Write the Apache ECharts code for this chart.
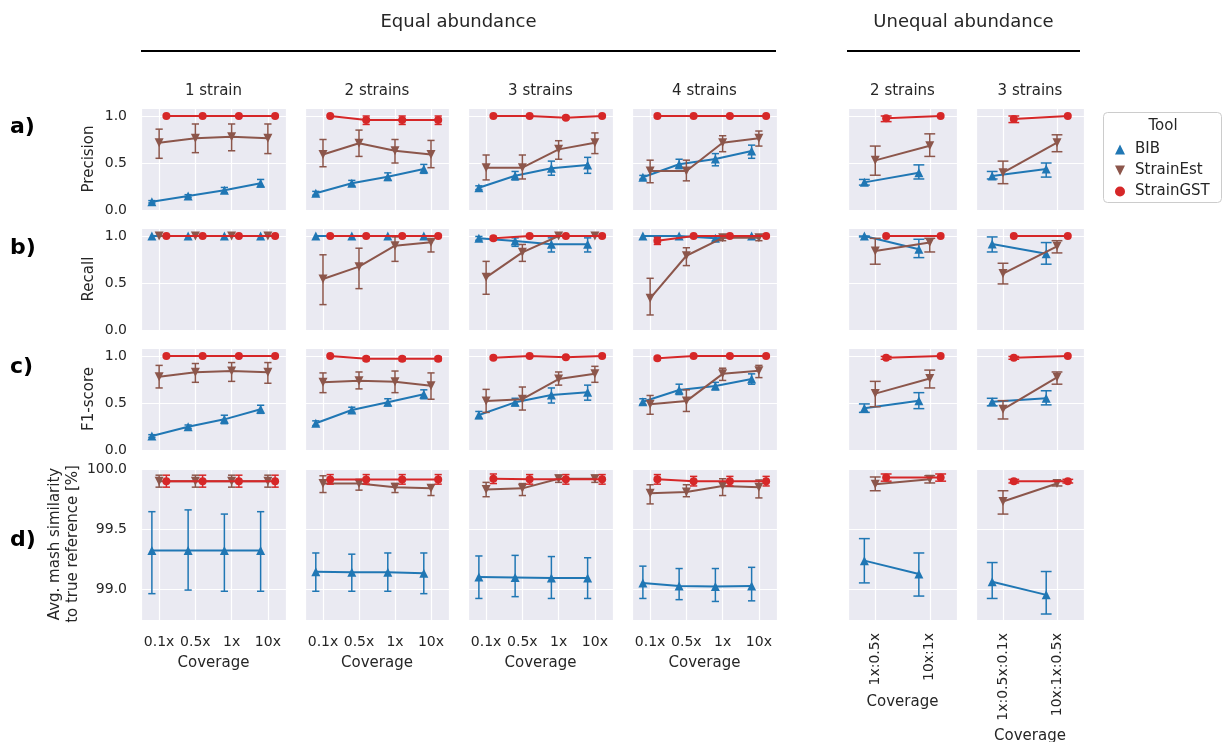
<!DOCTYPE html>
<html><head><meta charset="utf-8">
<script src="https://cdn.jsdelivr.net/npm/echarts@6/dist/echarts.min.js"></script>
<style>html,body{margin:0;padding:0;background:#fff}#c{width:1225px;height:742px}</style>
</head><body><div id="c"></div>
<script>
// ---------- DATA ----------
const tools = ['BIB', 'StrainEst', 'StrainGST'];
const equalCats = ['0.1x', '0.5x', '1x', '10x'];
const unequal2Cats = ['1x:0.5x', '10x:1x'];
const unequal3Cats = ['1x:0.5x:0.1x', '10x:1x:0.5x'];
const panelTitles = ['1 strain', '2 strains', '3 strains', '4 strains', '2 strains', '3 strains'];
const groupTitles = ['Equal abundance', 'Unequal abundance'];
const rowLetters = ['a)', 'b)', 'c)', 'd)'];
const rowNames = ['Precision', 'Recall', 'F1-score', 'Avg. mash similarity\nto true reference [%]'];
const xName = 'Coverage';
const legendTitle = 'Tool';

// Precision
const precBIB   = [[0.088,0.149,0.21,0.284],[0.178,0.284,0.354,0.436],[0.237,0.365,0.443,0.479],[0.348,0.486,0.543,0.628],[0.294,0.397],[0.362,0.436]];
const precBIBLo = [[0.075,0.135,0.18,0.245],[0.158,0.255,0.315,0.39],[0.217,0.32,0.37,0.39],[0.328,0.44,0.47,0.55],[0.265,0.33],[0.33,0.35]];
const precBIBHi = [[0.10,0.163,0.24,0.325],[0.198,0.315,0.395,0.485],[0.257,0.41,0.52,0.56],[0.368,0.54,0.60,0.69],[0.325,0.48],[0.41,0.50]];
const precEst   = [[0.716,0.763,0.78,0.763],[0.59,0.71,0.63,0.59],[0.45,0.45,0.645,0.716],[0.415,0.415,0.716,0.763],[0.528,0.684],[0.397,0.716]];
const precEstLo = [[0.55,0.61,0.63,0.60],[0.46,0.57,0.50,0.45],[0.32,0.33,0.54,0.60],[0.29,0.31,0.62,0.68],[0.37,0.57],[0.28,0.62]];
const precEstHi = [[0.86,0.915,0.915,0.915],[0.75,0.85,0.75,0.74],[0.585,0.585,0.737,0.82],[0.53,0.53,0.79,0.84],[0.68,0.81],[0.52,0.80]];
const precGST   = [[1,1,1,1],[1,0.957,0.957,0.957],[1,1,0.982,1],[1,1,1,1],[0.975,1],[0.968,1]];
const precGSTLo = [[1,1,1,1],[1,0.91,0.91,0.91],[1,1,0.967,1],[1,1,1,1],[0.94,1],[0.93,1]];
const precGSTHi = [[1,1,1,1],[1,1,1,1],[1,1,0.997,1],[1,1,1,1],[1,1],[1,1]];

// Recall
const recBIB   = [[1,1,1,1],[1,1,1,1],[0.975,0.947,0.911,0.911],[1,1,0.975,1],[1,0.858],[0.915,0.81]];
const recBIBLo = [[1,1,1,1],[1,1,1,1],[0.955,0.89,0.83,0.83],[1,1,0.95,1],[0.99,0.77],[0.83,0.70]];
const recBIBHi = [[1,1,1,1],[1,1,1,1],[0.995,0.98,0.98,0.98],[1,1,1,1],[1,0.965],[0.99,0.93]];
const recEst   = [[1,1,1,1],[0.543,0.674,0.897,0.933],[0.56,0.826,1,1],[0.337,0.79,0.98,0.98],[0.84,0.93],[0.60,0.89]];
const recEstLo = [[1,1,1,1],[0.27,0.44,0.73,0.83],[0.38,0.73,1,1],[0.16,0.685,0.95,0.95],[0.70,0.83],[0.49,0.82]];
const recEstHi = [[1,1,1,1],[0.80,0.87,0.99,0.96],[0.73,0.91,1,1],[0.55,0.875,1,1],[0.975,0.975],[0.71,0.95]];
const recGST   = [[1,1,1,1],[1,1,1,1],[0.975,1,1,1],[0.95,1,1,1],[1,1],[1,1]];
const recGSTLo = [[1,1,1,1],[1,1,1,1],[0.955,1,1,1],[0.91,1,1,1],[1,1],[1,1]];
const recGSTHi = [[1,1,1,1],[1,1,1,1],[0.995,1,1,1],[0.985,1,1,1],[1,1],[1,1]];

// F1-score
const f1BIB   = [[0.149,0.248,0.326,0.433],[0.284,0.426,0.507,0.592],[0.372,0.507,0.585,0.614],[0.514,0.638,0.68,0.755],[0.443,0.525],[0.514,0.55]];
const f1BIBLo = [[0.135,0.23,0.28,0.39],[0.26,0.40,0.47,0.545],[0.335,0.47,0.50,0.53],[0.485,0.59,0.64,0.70],[0.40,0.44],[0.47,0.48]];
const f1BIBHi = [[0.163,0.266,0.37,0.476],[0.31,0.455,0.545,0.64],[0.41,0.55,0.66,0.69],[0.545,0.70,0.72,0.81],[0.49,0.61],[0.55,0.63]];
const f1Est   = [[0.78,0.826,0.84,0.826],[0.72,0.737,0.727,0.684],[0.52,0.54,0.755,0.81],[0.486,0.52,0.81,0.844],[0.60,0.76],[0.433,0.773]];
const f1EstLo = [[0.66,0.72,0.73,0.71],[0.61,0.65,0.61,0.54],[0.40,0.425,0.69,0.72],[0.38,0.41,0.74,0.77],[0.46,0.66],[0.33,0.70]];
const f1EstHi = [[0.90,0.92,0.93,0.93],[0.82,0.83,0.84,0.82],[0.645,0.67,0.83,0.89],[0.58,0.64,0.87,0.90],[0.73,0.85],[0.525,0.83]];
const f1GST   = [[1,1,1,1],[1,0.97,0.97,0.97],[0.98,1,0.986,1],[0.975,1,1,1],[0.98,1],[0.98,1]];
const f1GSTLo = [[1,1,1,1],[1,0.95,0.95,0.95],[0.965,1,0.975,1],[0.96,1,1,1],[0.965,1],[0.965,1]];
const f1GSTHi = [[1,1,1,1],[1,0.99,0.99,0.99],[0.995,1,0.997,1],[0.99,1,1,1],[0.995,1],[0.995,1]];

// Avg. mash similarity [%]
const simBIB   = [[99.32,99.32,99.32,99.32],[99.144,99.14,99.14,99.13],[99.10,99.095,99.09,99.09],[99.05,99.025,99.02,99.025],[99.236,99.125],[99.06,98.95]];
const simBIBLo = [[98.96,98.99,98.98,98.98],[98.98,98.98,98.98,98.96],[98.92,98.935,98.92,98.92],[98.92,98.91,98.895,98.90],[99.05,98.94],[98.92,98.79]];
const simBIBHi = [[99.645,99.66,99.625,99.645],[99.30,99.29,99.30,99.30],[99.275,99.28,99.27,99.26],[99.19,99.17,99.17,99.18],[99.42,99.30],[99.22,99.145]];
const simEst   = [[99.90,99.90,99.90,99.90],[99.88,99.88,99.85,99.84],[99.83,99.84,99.92,99.92],[99.80,99.81,99.86,99.85],[99.875,99.915],[99.73,99.88]];
const simEstLo = [[99.85,99.85,99.85,99.85],[99.805,99.825,99.805,99.78],[99.77,99.78,99.89,99.89],[99.71,99.77,99.78,99.76],[99.82,99.885],[99.625,99.86]];
const simEstHi = [[99.95,99.95,99.95,99.95],[99.945,99.915,99.88,99.87],[99.89,99.88,99.95,99.95],[99.87,99.87,99.92,99.91],[99.935,99.945],[99.82,99.90]];
const simGST   = [[99.90,99.90,99.90,99.90],[99.914,99.914,99.914,99.914],[99.92,99.915,99.915,99.915],[99.915,99.90,99.90,99.90],[99.93,99.93],[99.90,99.90]];
const simGSTLo = [[99.85,99.85,99.85,99.85],[99.875,99.875,99.875,99.875],[99.88,99.875,99.875,99.875],[99.875,99.86,99.86,99.86],[99.90,99.90],[99.885,99.885]];
const simGSTHi = [[99.95,99.95,99.95,99.95],[99.955,99.955,99.955,99.955],[99.96,99.955,99.955,99.955],[99.955,99.94,99.94,99.94],[99.96,99.96],[99.915,99.915]];

// ---------- LAYOUT / STYLE ----------
const panelCats = [equalCats, equalCats, equalCats, equalCats, unequal2Cats, unequal3Cats];
const colBounds = [[141,286],[305,449],[468,613],[632,777],[848,957],[976,1084]];
const rowBounds = [[108,210],[228,330],[348,450],[468,620]];
const yRanges = [[0,1.085],[0,1.085],[0,1.085],[98.74,100.01]];
const xNameGaps = [36, 36, 36, 36, 75, 109];
const colors = ['#2077b4', '#8c564b', '#d62728'];
const symbols = ['triangle', 'triangle', 'circle'];
const symbolRot = [0, 180, 0];
const symbolSizes = [9, 9, 8];
const dodge = 0.2;
const textColor = '#262626';
const FONT = 'DejaVu Sans';

const metrics = [
  [[precBIB, precBIBLo, precBIBHi], [precEst, precEstLo, precEstHi], [precGST, precGSTLo, precGSTHi]],
  [[recBIB, recBIBLo, recBIBHi], [recEst, recEstLo, recEstHi], [recGST, recGSTLo, recGSTHi]],
  [[f1BIB, f1BIBLo, f1BIBHi], [f1Est, f1EstLo, f1EstHi], [f1GST, f1GSTLo, f1GSTHi]],
  [[simBIB, simBIBLo, simBIBHi], [simEst, simEstLo, simEstHi], [simGST, simGSTLo, simGSTHi]]
];

function errRenderer(color) {
  return function (params, api) {
    const x = api.value(0), lo = api.value(1), hi = api.value(2);
    if (Math.abs(hi - lo) < 1e-9) return null;
    const a = api.coord([x, lo]), b = api.coord([x, hi]);
    const cl = api.coord([x - 0.1, lo])[0], cr = api.coord([x + 0.1, lo])[0];
    const st = { stroke: color, lineWidth: 1.5 };
    return { type: 'group', children: [
      { type: 'line', shape: { x1: a[0], y1: a[1], x2: b[0], y2: b[1] }, style: st },
      { type: 'line', shape: { x1: cl, y1: a[1], x2: cr, y2: a[1] }, style: st },
      { type: 'line', shape: { x1: cl, y1: b[1], x2: cr, y2: b[1] }, style: st }
    ]};
  };
}

const grids = [], xAxes = [], yAxes = [], series = [];
for (let r = 0; r < 4; r++) {
  for (let c = 0; c < 6; c++) {
    const idx = grids.length;
    const cats = panelCats[c];
    const n = cats.length;
    grids.push({ left: colBounds[c][0], top: rowBounds[r][0],
      width: colBounds[c][1] - colBounds[c][0], height: rowBounds[r][1] - rowBounds[r][0],
      show: true, backgroundColor: '#eaeaf2', borderWidth: 0, containLabel: false,
      outerBoundsMode: 'none' });
    const isBottom = r === 3, rotated = c >= 4;
    xAxes.push({ type: 'value', gridIndex: idx, min: -0.5, max: n - 0.5,
      minInterval: 1, maxInterval: 1,
      axisLine: { show: false }, axisTick: { show: false },
      splitLine: { show: true, lineStyle: { color: '#ffffff', width: 1.2 } },
      axisLabel: { show: isBottom, interval: 0, rotate: rotated ? 90 : 0, margin: rotated ? 13 : 15,
        fontSize: 14, color: textColor, fontFamily: FONT,
        formatter: v => (Math.abs(v - Math.round(v)) < 1e-6 && v >= 0 && v < n) ? cats[Math.round(v)] : '' },
      name: isBottom ? xName : '', nameLocation: 'middle',
      nameGap: xNameGaps[c], nameMoveOverlap: false,
      nameTextStyle: { fontSize: 15, color: textColor, fontFamily: FONT }
    });
    const yr = yRanges[r];
    yAxes.push({ type: 'value', gridIndex: idx, min: yr[0], max: yr[1],
      minInterval: 0.5, maxInterval: 0.5,
      axisLine: { show: false }, axisTick: { show: false },
      splitLine: { show: true, lineStyle: { color: '#ffffff', width: 1.2 } },
      axisLabel: { show: c === 0, margin: 14, fontSize: 14, color: textColor, fontFamily: FONT,
        formatter: v => (Math.abs(v * 2 - Math.round(v * 2)) < 1e-6) ? v.toFixed(1) : '' },
      name: c === 0 ? rowNames[r] : '', nameLocation: 'middle',
      nameGap: r === 3 ? 59 : 43, nameMoveOverlap: false,
      nameTextStyle: { fontSize: 15, color: textColor, fontFamily: FONT, lineHeight: 18 }
    });
    for (let t = 0; t < 3; t++) {
      const [mean, lo, hi] = metrics[r][t];
      const off = (t - 1) * dodge;
      series.push({ type: 'custom', name: tools[t], xAxisIndex: idx, yAxisIndex: idx,
        renderItem: errRenderer(colors[t]), encode: { x: 0, y: [1, 2] },
        data: mean[c].map((v, i) => [i + off, lo[c][i], hi[c][i]]),
        itemStyle: { color: colors[t] }, z: 2 + t * 2, silent: true });
      series.push({ type: 'line', name: tools[t], xAxisIndex: idx, yAxisIndex: idx,
        data: mean[c].map((v, i) => [i + off, v]),
        symbol: symbols[t], symbolRotate: symbolRot[t], symbolSize: symbolSizes[t],
        showAllSymbol: true,
        lineStyle: { width: 2, color: colors[t] }, itemStyle: { color: colors[t] },
        z: 3 + t * 2, silent: true, clip: false });
    }
  }
}

const graphics = [];
const groupSpans = [[141, 776], [847, 1080]];
groupTitles.forEach((g, i) => {
  const cx = (groupSpans[i][0] + groupSpans[i][1]) / 2;
  graphics.push({ type: 'text', x: cx, y: 22, style: { text: g, fill: textColor, font: '18px "' + FONT + '"', textAlign: 'center', textVerticalAlign: 'middle' } });
  graphics.push({ type: 'line', shape: { x1: groupSpans[i][0], y1: 51, x2: groupSpans[i][1], y2: 51 }, style: { stroke: '#000', lineWidth: 2 } });
});
panelTitles.forEach((t, c) => {
  graphics.push({ type: 'text', x: (colBounds[c][0] + colBounds[c][1]) / 2, y: 91,
    style: { text: t, fill: textColor, font: '15px "' + FONT + '"', textAlign: 'center', textVerticalAlign: 'middle' } });
});
const letterY = [127, 248, 367, 540];
rowLetters.forEach((l, r) => {
  graphics.push({ type: 'text', x: 10, y: letterY[r],
    style: { text: l, fill: '#000', font: 'bold 22px "' + FONT + '"', textAlign: 'left', textVerticalAlign: 'middle' } });
});
graphics.push({ type: 'rect', shape: { x: 1103.5, y: 112.5, width: 118, height: 90, r: 4 },
  style: { fill: '#ffffff', stroke: '#cccccc', lineWidth: 1 }, z: 0 });
graphics.push({ type: 'text', x: 1163, y: 126, style: { text: legendTitle, fill: textColor, font: '15px "' + FONT + '"', textAlign: 'center', textVerticalAlign: 'middle' }, z: 1 });

const chart = echarts.init(document.getElementById('c'), null, { renderer: 'canvas' });
chart.setOption({
  animation: false,
  backgroundColor: '#ffffff',
  textStyle: { fontFamily: FONT },
  grid: grids, xAxis: xAxes, yAxis: yAxes, series: series,
  legend: { selectedMode: false, orient: 'vertical', left: 1110, top: 137, itemGap: 6,
    itemWidth: 10, itemHeight: 10, textStyle: { fontSize: 15, color: textColor, fontFamily: FONT, padding: [0, 0, 0, 5] },
    data: [ { name: 'BIB', icon: 'triangle' }, { name: 'StrainEst', icon: 'path://M0,0L10,0L5,10Z' }, { name: 'StrainGST', icon: 'circle' } ] },
  graphic: { elements: graphics }
});
</script></body></html>
